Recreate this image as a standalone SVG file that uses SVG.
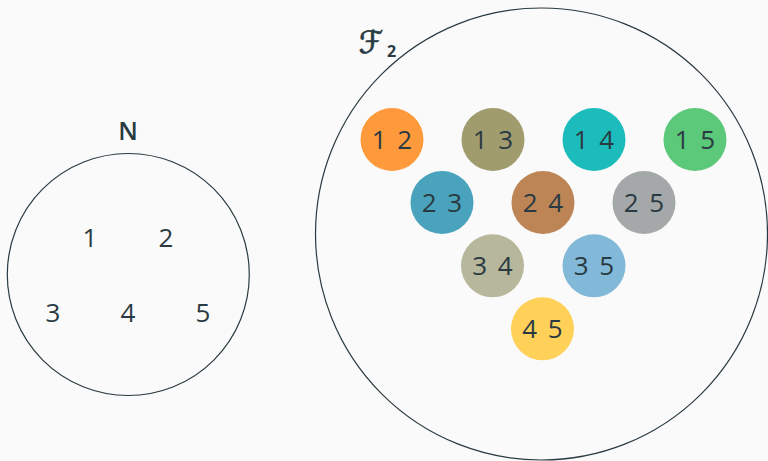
<svg xmlns="http://www.w3.org/2000/svg" width="768" height="461" viewBox="0 0 768 461">
<style>
.set{fill:none;stroke:#2a3a42;stroke-width:1.2}
.t{font-family:"Open Sans","Noto Sans",sans-serif;font-size:26px;fill:#2a3a42;text-anchor:middle}
.p{word-spacing:4px}
.lbl{font-family:"Open Sans","Noto Sans",sans-serif;font-size:25px;font-weight:600;fill:#2a3a42;text-anchor:middle}
</style>
<rect width="768" height="461" fill="#fafafa"/>
<g id="setN">
<circle class="set" cx="128.3" cy="274.5" r="121"/>
<text class="lbl" x="128" y="140">N</text>
<text class="t" x="90" y="247">1</text>
<text class="t" x="166" y="247">2</text>
<text class="t" x="53" y="322">3</text>
<text class="t" x="128" y="322">4</text>
<text class="t" x="203" y="322">5</text>
</g>
<g id="setF2">
<circle class="set" cx="541.5" cy="234" r="226"/>
<text x="371" y="53" text-anchor="middle" font-family="'DejaVu Sans',sans-serif" font-size="31" fill="#2a3a42" stroke="#2a3a42" stroke-width="0.8">ℱ</text>
<text x="387" y="57" font-family="'Open Sans','Noto Sans',sans-serif" font-size="16" font-weight="700" fill="#2a3a42">2</text>
</g>
<g id="p12"><circle cx="392" cy="139.5" r="31.5" fill="#ff9a3c"/><text class="t p" x="392" y="148.5">1 2</text></g>
<g id="p13"><circle cx="493" cy="139.5" r="31.5" fill="#a09c6e"/><text class="t p" x="493" y="148.5">1 3</text></g>
<g id="p14"><circle cx="594" cy="139.5" r="31.5" fill="#1cbcbc"/><text class="t p" x="594" y="148.5">1 4</text></g>
<g id="p15"><circle cx="695" cy="139.5" r="31.5" fill="#5bc87a"/><text class="t p" x="695" y="148.5">1 5</text></g>
<g id="p23"><circle cx="442" cy="202.5" r="31.5" fill="#4aa3bd"/><text class="t p" x="442" y="211.5">2 3</text></g>
<g id="p24"><circle cx="543" cy="202.5" r="31.5" fill="#bd8555"/><text class="t p" x="543" y="211.5">2 4</text></g>
<g id="p25"><circle cx="644" cy="202.5" r="31.5" fill="#a5a8a9"/><text class="t p" x="644" y="211.5">2 5</text></g>
<g id="p34"><circle cx="492.5" cy="265.8" r="31.5" fill="#b7b79c"/><text class="t p" x="492.5" y="274.8">3 4</text></g>
<g id="p35"><circle cx="594" cy="265.8" r="31.5" fill="#82b9d8"/><text class="t p" x="594" y="274.8">3 5</text></g>
<g id="p45"><circle cx="542.5" cy="328.8" r="31.5" fill="#ffd158"/><text class="t p" x="542.5" y="337.8">4 5</text></g>
<g id="connectors"></g>
</svg>
